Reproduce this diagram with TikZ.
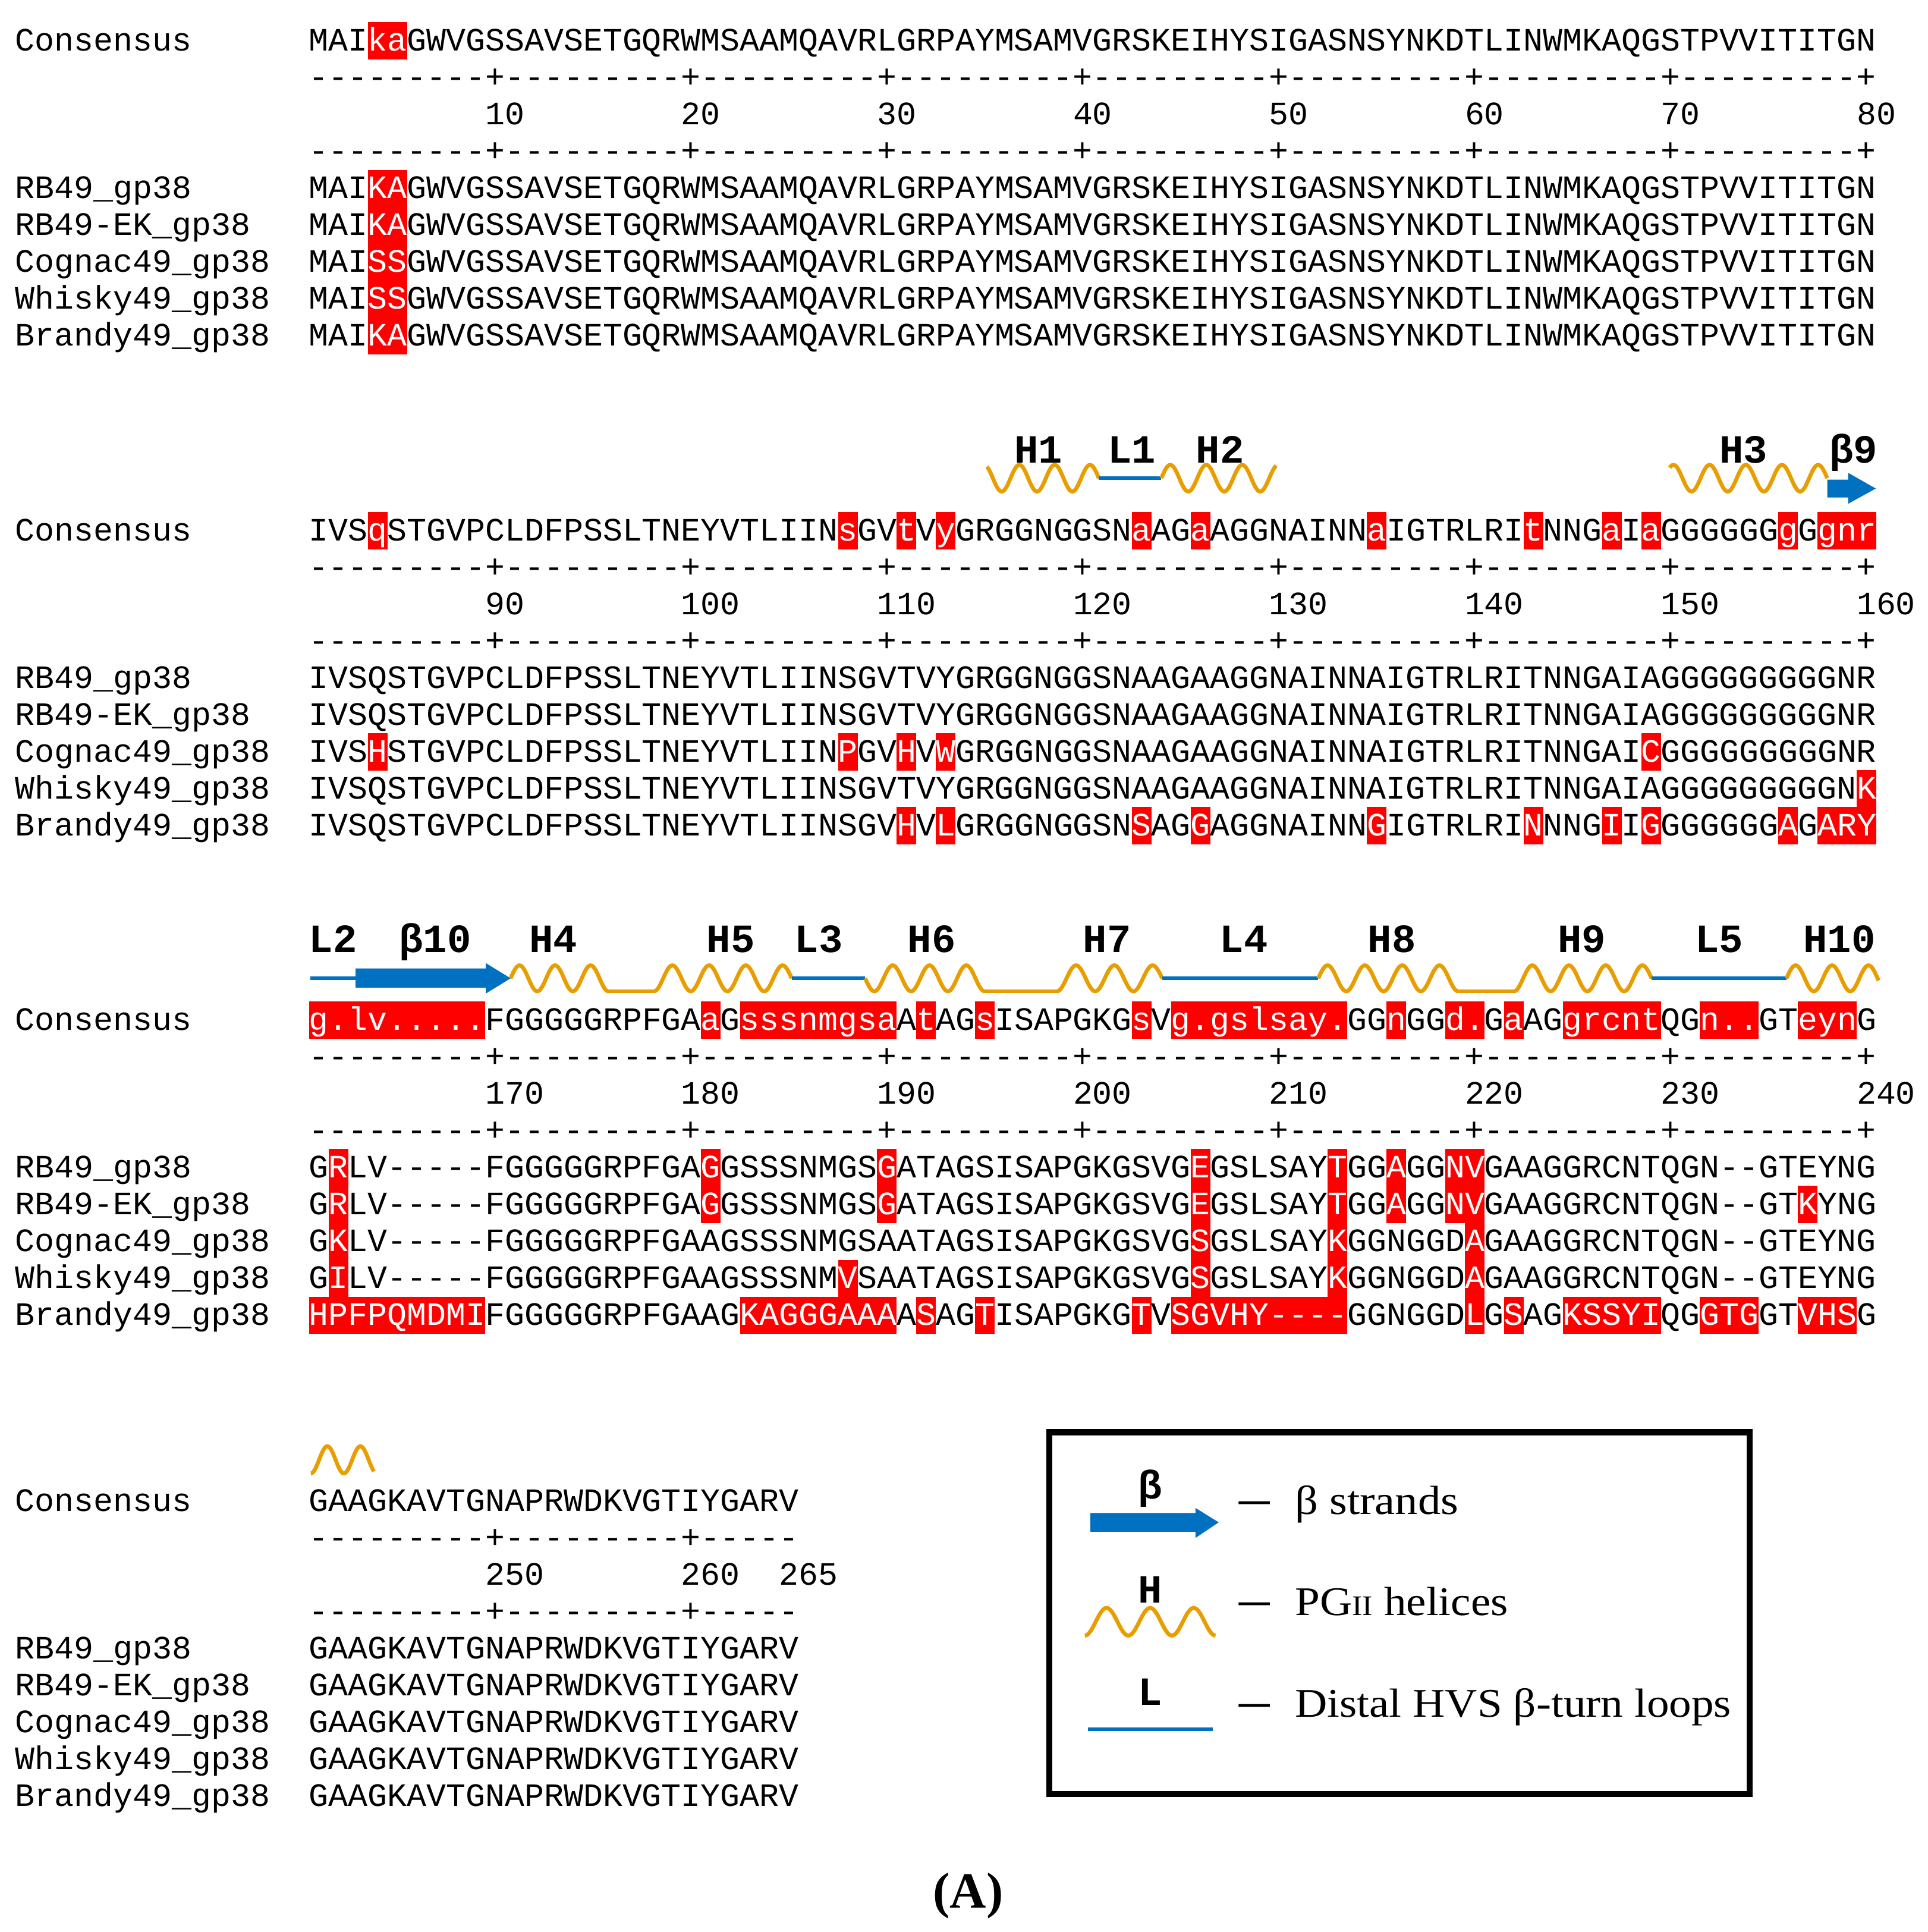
\documentclass[tikz,border=0pt]{standalone}
\usepackage{fontspec}
\usepackage{graphicx}
\setmainfont{Liberation Serif}
\setmonofont{Liberation Mono}
\definecolor{hlred}{RGB}{255,0,0}
\definecolor{ssblue}{RGB}{0,112,192}
\definecolor{hxorange}{RGB}{232,157,0}
\newcommand\dz{-\kern0pt}
\newcommand\rseg{\dz\dz\dz\dz\dz\dz\dz\dz\dz+\kern0pt}
\newcommand\rfull{\rseg\rseg\rseg\rseg\rseg\rseg\rseg\rseg}
\newcommand\us{\symbol{95}}
\newcommand\wt[1]{\textcolor{white}{#1}}
\newcommand\cw{15.9026}
\newcommand\hl[3]{\fill[hlred] ({250.9+(#2-1)*\cw},{#1-23.2}) rectangle ({250.9+#3*\cw},{#1+7});}
\newcommand\seqat[3]{\node[seq] (#1) at (250.9,#2) {#3};}
\newcommand\nameat[3]{\node[seq] (#1) at (12.5,#2) {#3};}
\newcommand\numat[4]{\node[seq] (#1) at ({250.9+(#3-1)*\cw},#2) {#4};}
\newcommand\helixseg[6]{\draw[helixline] plot[domain=#4:#5, samples=160] ({#1+(\x-(#4))/((#5)-(#4))*((#2)-(#1))}, {#3-#6*sin(\x)});}
\newcommand\Tone{GWVGSSAVSETGQRWMSAAMQAVRLGRPAYMSAMVGRSKEIHYSIGASNSYNKDTLINWMKAQGSTPVVITITGN}
\newcommand\Tfour{GAAGKAVTGNAPRWDKVGTIYGARV}
\tikzset{
  seq/.style={font=\ttfamily\fontsize{26.5}{30}\selectfont, inner sep=0pt, outer sep=0pt, anchor=base west},
  lab/.style={font=\ttfamily\bfseries\fontsize{32.5}{34}\selectfont, inner sep=0pt, anchor=base},
  legtext/.style={font=\fontsize{33}{36}\selectfont, inner sep=0pt, anchor=base west},
  legdash/.style={font=\bfseries\fontsize{33}{36}\selectfont, inner sep=0pt, anchor=base west},
  helixline/.style={draw=hxorange, line width=3.2pt},
  loopline/.style={draw=ssblue, line width=3pt},
  strand/.style={fill=ssblue, draw=none}
}
\begin{document}
\begin{tikzpicture}[x=1pt,y=-1pt]
\fill[white] (0,0) rectangle (1565,1568);
\useasboundingbox (0,0) rectangle (1565,1568);

% ================= Block 1 =================
\hl{41.2}{4}{5}
\foreach \yy in {161.0,190.95,220.9,250.85,280.8} {\hl{\yy}{4}{5}}
\nameat{n1c}{41.2}{Consensus}
\seqat{s1c}{41.2}{MAI\wt{ka}\Tone}
\seqat{r1a}{71.15}{\rfull}
\numat{k1a}{101.1}{10}{10}\numat{k1b}{101.1}{20}{20}\numat{k1c}{101.1}{30}{30}\numat{k1d}{101.1}{40}{40}
\numat{k1e}{101.1}{50}{50}\numat{k1f}{101.1}{60}{60}\numat{k1g}{101.1}{70}{70}\numat{k1h}{101.1}{80}{80}
\seqat{r1b}{131.05}{\rfull}
\nameat{n1a}{161.0}{RB49\us gp38}
\nameat{n1b}{190.95}{RB49-EK\us gp38}
\nameat{n1d}{220.9}{Cognac49\us gp38}
\nameat{n1e}{250.85}{Whisky49\us gp38}
\nameat{n1f}{280.8}{Brandy49\us gp38}
\seqat{s1a}{161.0}{MAI\wt{KA}\Tone}
\seqat{s1b}{190.95}{MAI\wt{KA}\Tone}
\seqat{s1d}{220.9}{MAI\wt{SS}\Tone}
\seqat{s1e}{250.85}{MAI\wt{SS}\Tone}
\seqat{s1f}{280.8}{MAI\wt{KA}\Tone}

% ================= Block 2 =================
\foreach \a/\b in {4/4,28/28,31/31,33/33,43/43,46/46,55/55,63/63,67/67,69/69,76/76,78/80} {\hl{438.7}{\a}{\b}}
\foreach \a/\b in {4/4,28/28,31/31,33/33,69/69} {\hl{618.4}{\a}{\b}}
\hl{648.35}{80}{80}
\foreach \a/\b in {31/31,33/33,43/43,46/46,55/55,63/63,67/67,69/69,76/76,78/80} {\hl{678.3}{\a}{\b}}
\nameat{n2c}{438.7}{Consensus}
\seqat{s2c}{438.7}{IVS\wt{q}STGVPCLDFPSSLTNEYVTLIIN\wt{s}GV\wt{t}V\wt{y}GRGGNGGSN\wt{a}AG\wt{a}AGGNAINN\wt{a}IGTRLRI\wt{t}NNG\wt{a}I\wt{a}GGGGGG\wt{g}G\wt{gnr}}
\seqat{r2a}{468.65}{\rfull}
\numat{k2a}{498.6}{10}{90}\numat{k2b}{498.6}{20}{100}\numat{k2c}{498.6}{30}{110}\numat{k2d}{498.6}{40}{120}
\numat{k2e}{498.6}{50}{130}\numat{k2f}{498.6}{60}{140}\numat{k2g}{498.6}{70}{150}\numat{k2h}{498.6}{80}{160}
\seqat{r2b}{528.55}{\rfull}
\nameat{n2a}{558.5}{RB49\us gp38}
\nameat{n2b}{588.45}{RB49-EK\us gp38}
\nameat{n2d}{618.4}{Cognac49\us gp38}
\nameat{n2e}{648.35}{Whisky49\us gp38}
\nameat{n2f}{678.3}{Brandy49\us gp38}
\seqat{s2a}{558.5}{IVSQSTGVPCLDFPSSLTNEYVTLIINSGVTVYGRGGNGGSNAAGAAGGNAINNAIGTRLRITNNGAIAGGGGGGGGGNR}
\seqat{s2b}{588.45}{IVSQSTGVPCLDFPSSLTNEYVTLIINSGVTVYGRGGNGGSNAAGAAGGNAINNAIGTRLRITNNGAIAGGGGGGGGGNR}
\seqat{s2d}{618.4}{IVS\wt{H}STGVPCLDFPSSLTNEYVTLIIN\wt{P}GV\wt{H}V\wt{W}GRGGNGGSNAAGAAGGNAINNAIGTRLRITNNGAI\wt{C}GGGGGGGGGNR}
\seqat{s2e}{648.35}{IVSQSTGVPCLDFPSSLTNEYVTLIINSGVTVYGRGGNGGSNAAGAAGGNAINNAIGTRLRITNNGAIAGGGGGGGGGN\wt{K}}
\seqat{s2f}{678.3}{IVSQSTGVPCLDFPSSLTNEYVTLIINSGV\wt{H}V\wt{L}GRGGNGGSN\wt{S}AG\wt{G}AGGNAINN\wt{G}IGTRLRI\wt{N}NNG\wt{I}I\wt{G}GGGGGG\wt{A}G\wt{ARY}}

% annotations block 2
\helixseg{801.2}{892}{388.1}{120}{1260}{10.8}
\draw[loopline] (892,388.1) -- (942.7,388.1);
\helixseg{942.7}{1036}{388.1}{0}{1150}{10.8}
\helixseg{1355.4}{1483.3}{388.1}{53}{1620}{10.8}
\fill[strand] (1483.3,389.3) -- (1500.2,389.3) -- (1500.2,383.7) -- (1522.7,396.5) -- (1500.2,408.9) -- (1500.2,403.8) -- (1483.3,403.8) -- cycle;
\node[lab] (lH1) at (842.9,375.5) {H1};
\node[lab] (lL1) at (918.6,375.5) {L1};
\node[lab] (lH2) at (990.4,375.5) {H2};
\node[lab] (lH3) at (1415.3,375.5) {H3};
\node[lab] (lB9) at (1504.5,375.5) {β9};

% ================= Block 3 =================
\foreach \a/\b in {1/9,21/21,23/30,32/32,35/35,43/43,45/53,56/56,59/60,62/62,65/69,72/74,77/79} {\hl{836.0}{\a}{\b}}
\foreach \a/\b in {2/2,21/21,30/30,46/46,53/53,56/56,59/60} {\hl{955.8}{\a}{\b}}
\foreach \a/\b in {2/2,21/21,30/30,46/46,53/53,56/56,59/60,77/77} {\hl{985.75}{\a}{\b}}
\foreach \a/\b in {2/2,46/46,53/53,60/60} {\hl{1015.7}{\a}{\b}}
\foreach \a/\b in {2/2,28/28,46/46,53/53,60/60} {\hl{1045.65}{\a}{\b}}
\foreach \a/\b in {1/9,23/30,32/32,35/35,43/43,45/53,60/60,62/62,65/69,72/74,77/79} {\hl{1075.6}{\a}{\b}}
\nameat{n3c}{836.0}{Consensus}
\seqat{s3c}{836.0}{\wt{g.lv.....}FGGGGGRPFGA\wt{a}G\wt{sssnmgsa}A\wt{t}AG\wt{s}ISAPGKG\wt{s}V\wt{g.gslsay.}GG\wt{n}GG\wt{d.}G\wt{a}AG\wt{grcnt}QG\wt{n..}GT\wt{eyn}G}
\seqat{r3a}{865.95}{\rfull}
\numat{k3a}{895.9}{10}{170}\numat{k3b}{895.9}{20}{180}\numat{k3c}{895.9}{30}{190}\numat{k3d}{895.9}{40}{200}
\numat{k3e}{895.9}{50}{210}\numat{k3f}{895.9}{60}{220}\numat{k3g}{895.9}{70}{230}\numat{k3h}{895.9}{80}{240}
\seqat{r3b}{925.85}{\rfull}
\nameat{n3a}{955.8}{RB49\us gp38}
\nameat{n3b}{985.75}{RB49-EK\us gp38}
\nameat{n3d}{1015.7}{Cognac49\us gp38}
\nameat{n3e}{1045.65}{Whisky49\us gp38}
\nameat{n3f}{1075.6}{Brandy49\us gp38}
\seqat{s3a}{955.8}{G\wt{R}LV\dz\dz\dz\dz\dz FGGGGGRPFGA\wt{G}GSSSNMGS\wt{G}ATAGSISAPGKGSVG\wt{E}GSLSAY\wt{T}GG\wt{A}GG\wt{NV}GAAGGRCNTQGN\dz\dz GTEYNG}
\seqat{s3b}{985.75}{G\wt{R}LV\dz\dz\dz\dz\dz FGGGGGRPFGA\wt{G}GSSSNMGS\wt{G}ATAGSISAPGKGSVG\wt{E}GSLSAY\wt{T}GG\wt{A}GG\wt{NV}GAAGGRCNTQGN\dz\dz GT\wt{K}YNG}
\seqat{s3d}{1015.7}{G\wt{K}LV\dz\dz\dz\dz\dz FGGGGGRPFGAAGSSSNMGSAATAGSISAPGKGSVG\wt{S}GSLSAY\wt{K}GGNGGD\wt{A}GAAGGRCNTQGN\dz\dz GTEYNG}
\seqat{s3e}{1045.65}{G\wt{I}LV\dz\dz\dz\dz\dz FGGGGGRPFGAAGSSSNM\wt{V}SAATAGSISAPGKGSVG\wt{S}GSLSAY\wt{K}GGNGGD\wt{A}GAAGGRCNTQGN\dz\dz GTEYNG}
\seqat{s3f}{1075.6}{\wt{HPFPQMDMI}FGGGGGRPFGAAG\wt{KAGGGAAA}A\wt{S}AG\wt{T}ISAPGKG\wt{T}V\wt{SGVHY\dz\dz\dz\dz}GGNGGD\wt{L}G\wt{S}AG\wt{KSSYI}QG\wt{GTG}GT\wt{VHS}G}

% annotations block 3
\draw[loopline] (252.1,794) -- (288.6,794);
\fill[strand] (288.6,786) -- (394.3,786) -- (394.3,781.6) -- (414.5,794) -- (394.3,806.4) -- (394.3,801.6) -- (288.6,801.6) -- cycle;
\helixseg{414.5}{493.9}{794}{0}{990}{10.5}
\draw[helixline] (493.9,804.5) -- (530.9,804.5);
\helixseg{530.9}{642.7}{794}{-90}{1260}{10.5}
\draw[loopline] (642.7,794) -- (702.3,794);
\helixseg{702.3}{799.3}{794}{180}{1350}{10.5}
\draw[helixline] (799.3,804.5) -- (858,804.5);
\helixseg{858}{943.4}{794}{-90}{900}{10.5}
\draw[loopline] (943.4,794) -- (1070.1,794);
\helixseg{1070.1}{1183.7}{794}{0}{1350}{10.5}
\draw[helixline] (1183.7,804.5) -- (1229,804.5);
\helixseg{1229}{1340.7}{794}{-90}{1260}{10.5}
\draw[loopline] (1340.7,794) -- (1450.2,794);
\helixseg{1450.2}{1525}{794}{0}{910}{10.5}
\node[lab] (lL2) at (270.4,772.7) {L2};
\node[lab] (lB10) at (353.3,772.7) {β10};
\node[lab] (lH4) at (449.3,772.7) {H4};
\node[lab] (lH5) at (593.2,772.7) {H5};
\node[lab] (lL3) at (664.7,772.7) {L3};
\node[lab] (lH6) at (756.3,772.7) {H6};
\node[lab] (lH7) at (898.7,772.7) {H7};
\node[lab] (lL4) at (1009.7,772.7) {L4};
\node[lab] (lH8) at (1129.8,772.7) {H8};
\node[lab] (lH9) at (1284.1,772.7) {H9};
\node[lab] (lL5) at (1395.6,772.7) {L5};
\node[lab] (lH10) at (1493.1,772.7) {H10};

% ================= Block 4 =================
\helixseg{252.3}{303.6}{1184.8}{-90}{598}{11}
\nameat{n4c}{1226.3}{Consensus}
\seqat{s4c}{1226.3}{\Tfour}
\seqat{r4a}{1256.25}{\rseg\rseg\dz\dz\dz\dz\dz}
\numat{k4a}{1286.2}{10}{250}\numat{k4b}{1286.2}{20}{260}\numat{k4c}{1286.2}{25}{265}
\seqat{r4b}{1316.15}{\rseg\rseg\dz\dz\dz\dz\dz}
\nameat{n4a}{1346.1}{RB49\us gp38}
\nameat{n4b}{1376.05}{RB49-EK\us gp38}
\nameat{n4d}{1406.0}{Cognac49\us gp38}
\nameat{n4e}{1435.95}{Whisky49\us gp38}
\nameat{n4f}{1465.9}{Brandy49\us gp38}
\seqat{s4a}{1346.1}{\Tfour}
\seqat{s4b}{1376.05}{\Tfour}
\seqat{s4d}{1406.0}{\Tfour}
\seqat{s4e}{1435.95}{\Tfour}
\seqat{s4f}{1465.9}{\Tfour}

% ================= Legend =================
\draw[line width=5pt] (851.7,1162.3) rectangle (1420.3,1455.9);
\node[lab] (gB) at (933.5,1216.4) {β};
\fill[strand] (885.2,1227.9) -- (970.4,1227.9) -- (970.4,1223.8) -- (989.3,1235.5) -- (970.4,1248.2) -- (970.4,1243.1) -- (885.2,1243.1) -- cycle;
\node[legdash] (gd1) at (1006,1227.3) {\scalebox{1.5}[1]{–}};
\node[legtext] (gt1) at (1051,1228.8) {\scalebox{1.12}[1]{β strands}};
\node[lab] (gH) at (933.5,1301) {H};
\helixseg{880.6}{986.7}{1316.2}{-90}{990}{11.2}
\node[legdash] (gd2) at (1006,1309.7) {\scalebox{1.5}[1]{–}};
\node[legtext] (gt2) at (1051,1311.2) {\scalebox{1.1}[1]{PG{\fontsize{23}{23}\selectfont II} helices}};
\node[lab] (gL) at (933.5,1384) {L};
\draw[loopline] (883.2,1403.6) -- (984.7,1403.6);
\node[legdash] (gd3) at (1006,1391.9) {\scalebox{1.5}[1]{–}};
\node[legtext] (gt3) at (1051,1393.4) {\scalebox{1.1}[1]{Distal HVS β-turn loops}};

% caption
\node[font=\bfseries\fontsize{41}{41}\selectfont, inner sep=0pt, anchor=base] (cap) at (786,1548.4) {(A)};
\end{tikzpicture}
\end{document}
